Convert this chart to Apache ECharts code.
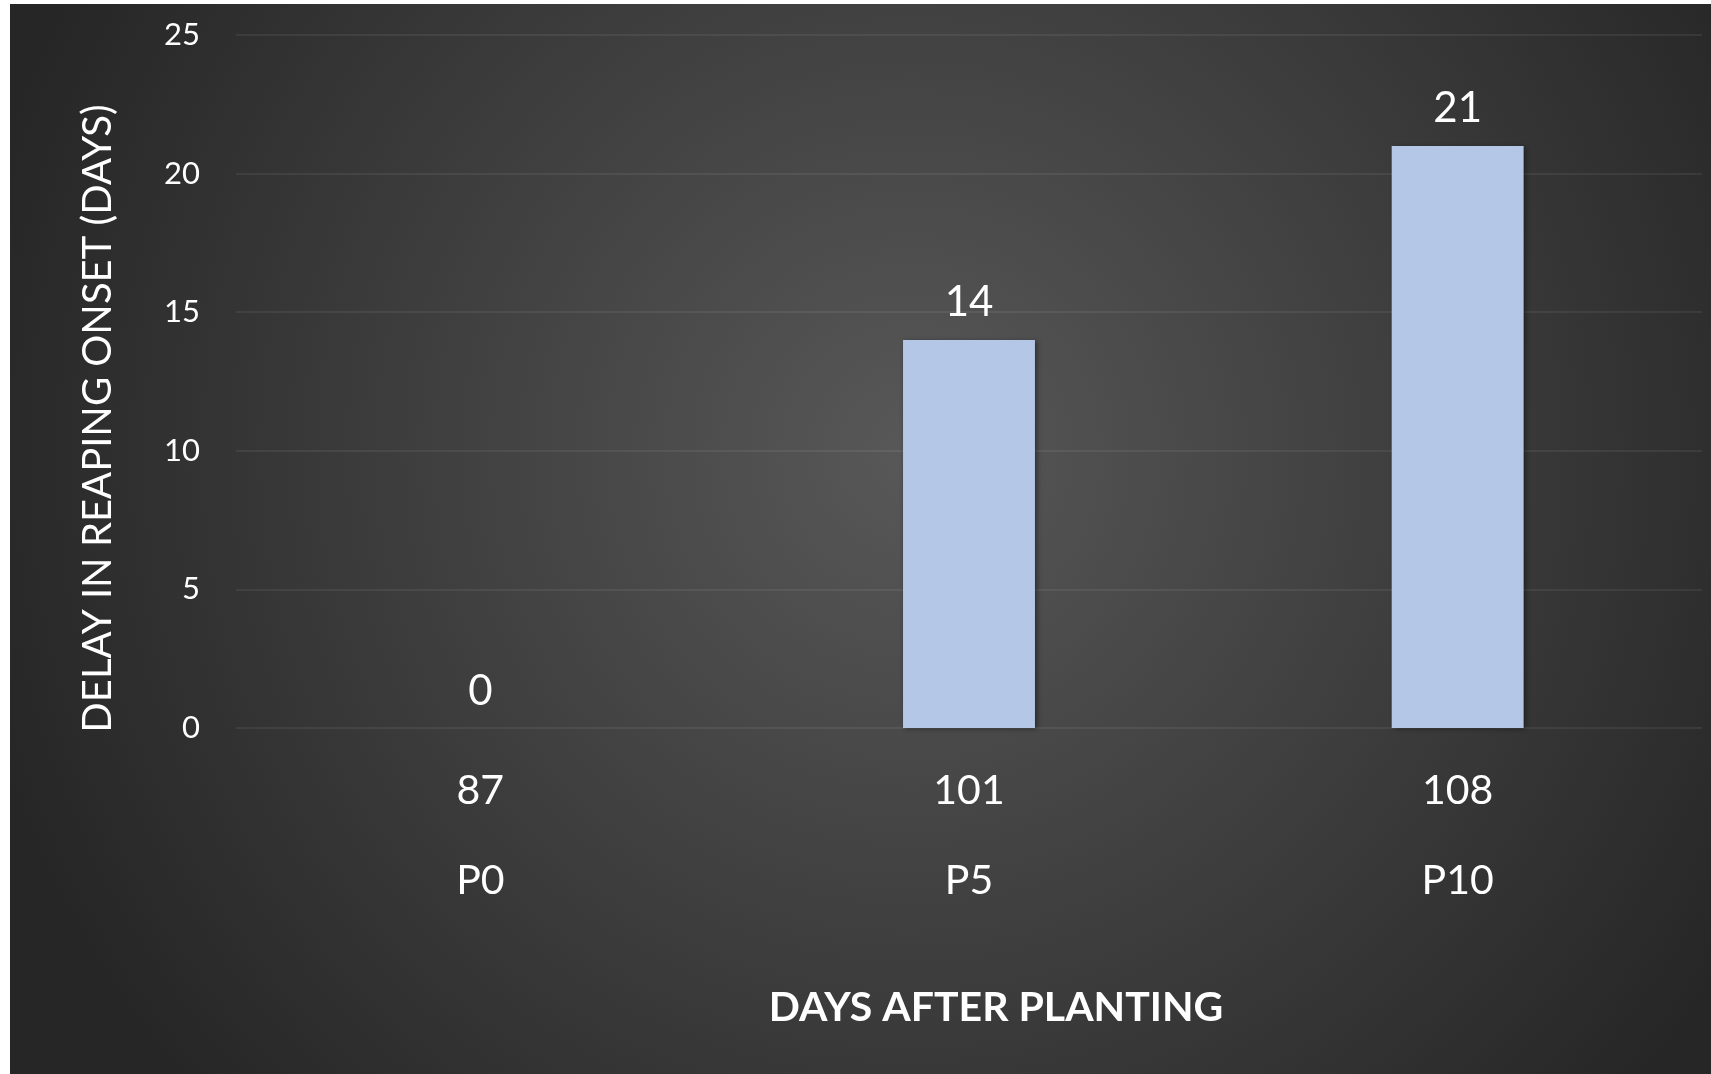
<!DOCTYPE html>
<html>
<head>
<meta charset="utf-8">
<script src="https://cdn.jsdelivr.net/npm/echarts@6/dist/echarts.min.js"></script>
<style>
  html, body { margin: 0; padding: 0; background: #ffffff; width: 1711px; height: 1074px; overflow: hidden; }
  #chart { position: absolute; left: 10px; top: 4px; width: 1701px; height: 1070px; }
</style>
</head>
<body>
<div id="chart"></div>
<script>
const categories = ['P0', 'P5', 'P10'];
const daysAfterPlanting = ['87', '101', '108'];
const delayValues = [0, 14, 21];
const yTicks = [0, 5, 10, 15, 20, 25];

const chart = echarts.init(document.getElementById('chart'), null, { renderer: 'canvas' });
const FONT = 'Lato';

chart.setOption({
  backgroundColor: {
    type: 'radial', x: 0.53, y: 0.42, r: 0.9,
    colorStops: [
      { offset: 0, color: '#585858' },
      { offset: 1, color: '#262626' }
    ]
  },
  animation: false,
  grid: { left: 226, right: 9, top: 31, bottom: 346, containLabel: false },
  xAxis: {
    type: 'category',
    data: categories,
    name: 'DAYS AFTER PLANTING',
    nameLocation: 'middle',
    nameGap: 259,
    nameTextStyle: { color: '#ffffff', fontFamily: FONT, fontWeight: 'bold', fontSize: 41, padding: [0, 0, 0, 54] },
    axisLine: { show: false },
    axisTick: { show: false },
    axisLabel: {
      color: '#ffffff', fontFamily: FONT, fontSize: 41, lineHeight: 90, margin: 18,
      formatter: (v, i) => daysAfterPlanting[i] + '\n' + v
    },
    splitLine: { show: false }
  },
  yAxis: {
    type: 'value',
    min: yTicks[0],
    max: yTicks[yTicks.length - 1],
    interval: 5,
    name: 'DELAY IN REAPING ONSET (DAYS)',
    nameLocation: 'middle',
    nameGap: 118,
    nameTextStyle: { color: '#ffffff', fontFamily: FONT, fontSize: 40, padding: [0, 74, 0, 0] },
    axisLine: { show: false },
    axisTick: { show: false },
    axisLabel: { color: '#ffffff', fontFamily: FONT, fontSize: 31, margin: 36 },
    splitLine: { lineStyle: { color: 'rgba(255,255,255,0.09)', width: 1.5 } }
  },
  series: [{
    type: 'bar',
    data: delayValues,
    barWidth: '27%',
    itemStyle: {
      color: '#B4C7E7',
      shadowColor: 'rgba(0,0,0,0.45)', shadowBlur: 5, shadowOffsetX: 2, shadowOffsetY: 1
    },
    label: {
      show: true, position: 'top', distance: 15,
      color: '#ffffff', fontFamily: FONT, fontSize: 42, lineHeight: 44
    }
  }]
});
</script>
</body>
</html>
